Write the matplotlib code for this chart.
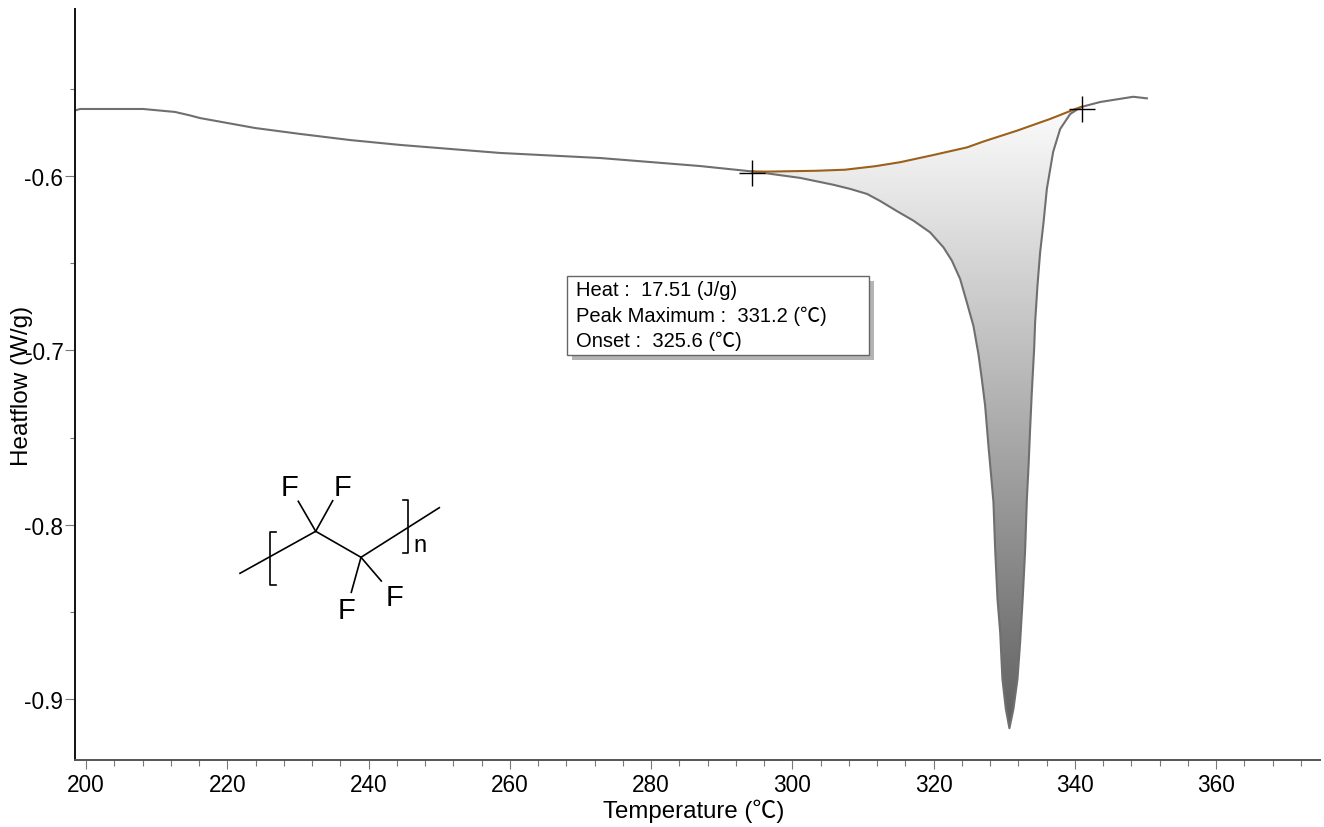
import numpy as np
import matplotlib
matplotlib.use("Agg")
import matplotlib.pyplot as plt
from matplotlib.colors import LinearSegmentedColormap
from matplotlib.patches import Polygon, Rectangle
from matplotlib.ticker import MultipleLocator
from matplotlib.transforms import Affine2D

plt.rcParams["font.family"] = ["Liberation Sans", "Noto Sans CJK SC", "DejaVu Sans"]
plt.rcParams["axes.unicode_minus"] = False

# DSC trace
temperature = [198.44, 199.15, 208.07, 212.6, 214.73, 216.14, 223.93, 230.3, 237.38, 244.46,
               251.54, 258.62, 272.78, 286.94, 294.3, 296.42, 301.1, 305.77, 308.18, 310.58,
               312.42, 314.79, 317.14, 319.5, 321.39, 322.58, 323.75, 324.7, 325.64, 326.34,
               326.82, 327.29, 327.76, 328.14, 328.47, 328.71, 329.04, 329.42, 329.74, 330.22,
               330.73, 331.3, 331.87, 332.25, 332.63, 332.96, 333.2, 333.44, 333.66, 333.9,
               334.23, 334.37, 334.7, 335.08, 335.55, 336.03, 336.92, 337.91, 339.33, 340.85,
               343.58, 348.25, 350.19]
heatflow = [-0.5625, -0.5616, -0.5616, -0.5633, -0.5653, -0.5668, -0.5725, -0.5759, -0.5794, -0.5822,
            -0.5845, -0.5868, -0.5897, -0.5943, -0.5974, -0.5985, -0.6011, -0.6050, -0.6074, -0.6103,
            -0.6143, -0.6201, -0.6256, -0.6323, -0.6409, -0.6485, -0.6590, -0.6724, -0.6860, -0.7020,
            -0.7163, -0.7316, -0.7546, -0.7717, -0.7870, -0.8138, -0.8424, -0.8613, -0.8883, -0.9054,
            -0.9165, -0.9054, -0.8883, -0.8670, -0.8407, -0.8138, -0.7851, -0.7660, -0.7450, -0.7240,
            -0.6991, -0.6838, -0.6629, -0.6437, -0.6270, -0.6074, -0.5862, -0.5731, -0.5645, -0.5605,
            -0.5576, -0.5546, -0.5555]

# integration baseline under the peak
base_temp = [294.3, 296.42, 303.5, 307.47, 311.72, 315.26, 319.93, 324.74, 327.01, 331.82, 336.5, 340.32, 340.85]
base_flow = [-0.5974, -0.5975, -0.5970, -0.5964, -0.5944, -0.5921, -0.5880, -0.5836, -0.5803, -0.5740, -0.5673, -0.5612, -0.5605]

limit_temp = [294.3, 341.0]
limit_flow = [-0.5985, -0.5615]

box_lines = ["Heat :  17.51 (J/g)", "Peak Maximum :  331.2 (℃)", "Onset :  325.6 (℃)"]

fig = plt.figure(figsize=(13.24, 8.28), dpi=100)
ax = fig.add_axes([74.5 / 1324, 1 - 761 / 828, (1320 - 74.5) / 1324, (761 - 10) / 828])

# transform for annotations placed in image pixels (y down)
px = Affine2D().scale(1 / 1324, -1 / 828).translate(0, 1) + fig.transFigure

# gradient fill of the peak area
temp_arr = np.array(temperature)
flow_arr = np.array(heatflow)
peak = (temp_arr >= base_temp[0]) & (temp_arr <= base_temp[-1])
outline = np.column_stack([
    np.concatenate([temp_arr[peak], base_temp[::-1]]),
    np.concatenate([flow_arr[peak], base_flow[::-1]]),
])
clip = Polygon(outline, closed=True, transform=ax.transData, facecolor="none", edgecolor="none")
ax.add_patch(clip)
grey = LinearSegmentedColormap.from_list("peak", ["#fcfcfc", "#606060"])
img = ax.imshow(np.linspace(0, 1, 256).reshape(-1, 1), cmap=grey, aspect="auto",
                extent=[base_temp[0], base_temp[-1], flow_arr.min(), max(base_flow)],
                origin="upper", zorder=1)
img.set_clip_path(clip)

ax.plot(temperature, heatflow, color="#6f6f6f", lw=1.5, zorder=2)
ax.plot(base_temp, base_flow, color="#9c5f1c", lw=1.5, zorder=3)
ax.plot(limit_temp, limit_flow, ls="none", marker="+", ms=19, mew=1, color="black", zorder=4)

ax.set_xlim(198.37, 374.7)
ax.set_ylim(-0.9347, -0.5043)

ax.spines["top"].set_visible(False)
ax.spines["right"].set_visible(False)
ax.spines["left"].set_linewidth(1.4)
ax.spines["left"].set_color("#111111")
ax.spines["bottom"].set_linewidth(1.4)
ax.spines["bottom"].set_color("#555555")

ax.xaxis.set_major_locator(MultipleLocator(20))
ax.xaxis.set_minor_locator(MultipleLocator(4))
ax.yaxis.set_major_locator(MultipleLocator(0.1))
ax.yaxis.set_minor_locator(MultipleLocator(0.05))
ax.tick_params(axis="x", which="major", length=6.5, width=0.8, color="#777777", labelsize=16.3, pad=3)
ax.tick_params(axis="x", which="minor", length=4.3, width=0.8, color="#777777")
ax.tick_params(axis="y", which="major", length=7, width=0.8, color="#777777", labelsize=16.3, pad=1)
ax.tick_params(axis="y", which="minor", length=3.6, width=0.8, color="#777777")

ax.set_xlabel("Temperature (℃)", fontsize=17.3)
ax.set_ylabel("Heatflow (W/g)", fontsize=17.5)
ax.xaxis.set_label_coords(0.497, -0.052)
ax.yaxis.set_label_coords(-0.033, 0.5)

# result box with drop shadow
fig.add_artist(Rectangle((572, 361), 302, -79, transform=px, facecolor="#b4b4b4", edgecolor="none", zorder=5))
fig.add_artist(Rectangle((567, 356), 302, -79, transform=px, facecolor="white", edgecolor="#666666", lw=1, zorder=6))
for line, ypos in zip(box_lines, [291, 316, 341]):
    fig.text(576, ypos, line, transform=px, fontsize=14.5, va="center", ha="left", zorder=7)

# repeat unit sketch
sketch = [
    ([240, 315.7, 361, 439.3], [574.3, 532.3, 558.3, 508.7]),
    ([276, 270, 270, 276], [533.3, 533.3, 586, 586]),
    ([402.7, 408.3, 408.3, 402.7], [500.7, 500.7, 554, 554]),
    ([315.7, 298.3], [532.3, 502.3]),
    ([315.7, 332.7], [532.3, 501.7]),
    ([361, 351.3], [558.3, 593.3]),
    ([361, 381.3], [558.3, 582]),
]
for xs, ys in sketch:
    ax.plot(xs, ys, color="black", lw=1.2, transform=px, clip_on=False, zorder=5)
for xpos, ypos in [(289.7, 488), (342, 488), (346.7, 611), (394, 598)]:
    fig.text(xpos, ypos, "F", transform=px, fontsize=21, ha="center", va="center")
fig.text(420, 546, "n", transform=px, fontsize=17, ha="center", va="center")

fig.savefig("out.png", dpi=100)
